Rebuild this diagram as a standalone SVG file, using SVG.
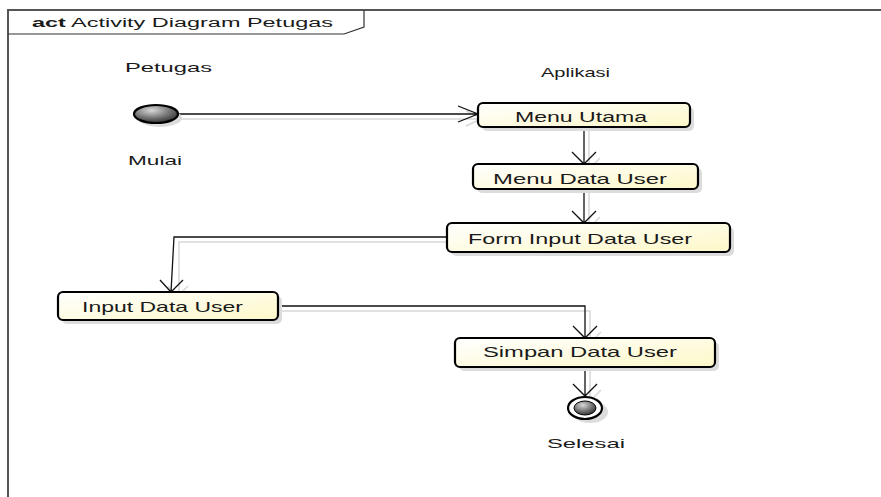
<svg xmlns="http://www.w3.org/2000/svg" width="881" height="497" viewBox="0 0 881 497">
<defs>
<style>
text{font-family:"Liberation Sans",Arial,sans-serif;fill:#1a1a1a}
.lbl{font-size:13px}
.nt{font-size:15px}
.node{fill:url(#ng);stroke:#000;stroke-width:2.2}
.shd{fill:#dcdcdc}
.ln{fill:none;stroke:#111;stroke-width:1.3}
.sl{fill:none;stroke:#d8d8d8;stroke-width:1.5}
</style>
<linearGradient id="ng" x1="0" y1="0" x2="1" y2="1">
<stop offset="0" stop-color="#ffffff"/>
<stop offset="1" stop-color="#fdf8c8"/>
</linearGradient>
<radialGradient id="bg" cx="0.4" cy="0.3" r="0.8">
<stop offset="0" stop-color="#d8d8d8"/>
<stop offset="0.6" stop-color="#666"/>
<stop offset="1" stop-color="#222"/>
</radialGradient>
</defs>
<rect width="881" height="497" fill="#fff"/>
<g id="frame">
<line x1="8" y1="10" x2="881" y2="10" stroke="#555" stroke-width="2"/>
<line x1="8" y1="9" x2="8" y2="497" stroke="#555" stroke-width="2"/>
<path d="M8 34 H344 L364 27 V10" fill="none" stroke="#333" stroke-width="1.2"/>
<text x="32" y="27" font-size="12.5" textLength="301" lengthAdjust="spacingAndGlyphs"><tspan font-weight="bold">act</tspan> Activity Diagram Petugas</text>
</g>
<g id="labels">
<text class="lbl" x="125" y="72" textLength="87" lengthAdjust="spacingAndGlyphs">Petugas</text>
<text class="lbl" x="541" y="77" textLength="69" lengthAdjust="spacingAndGlyphs">Aplikasi</text>
</g>
<g id="connectors">
<path class="sl" d="M180 119 H482 M466 111 L483 118 L466 126"/>
<path class="sl" d="M589 131 V168 M578 158 L589 169 L600 158"/>
<path class="sl" d="M589 193 V228 M578 217 L589 228 L600 217"/>
<path class="sl" d="M447 242 H179 V296 M168 286 L177 297 L188 286"/>
<path class="sl" d="M282 311 H590 V342 M579 332 L590 343 L601 332"/>
<path class="sl" d="M590 371 V400 M579 390 L590 401 L601 390"/>
<path class="ln" d="M178 114 H478 M458 106 L478 114 L458 122"/>
<path class="ln" d="M584 127 V164 M572 152 L584 164 L596 152"/>
<path class="ln" d="M584 189 V223 M572 211 L584 223 L596 211"/>
<path class="ln" d="M447 237 H174 L171 292 M160 280 L171 292 L183 280"/>
<path class="ln" d="M278 306 H585 V338 M573 326 L585 338 L597 326"/>
<path class="ln" d="M585 367 V396 M573 384 L585 396 L597 384"/>
</g>
<g id="start">
<ellipse cx="160" cy="118" rx="22" ry="9" class="shd"/>
<ellipse cx="156" cy="114" rx="22" ry="9" fill="url(#bg)" stroke="#000" stroke-width="2.2"/>
<text class="lbl" x="128" y="165" textLength="54" lengthAdjust="spacingAndGlyphs">Mulai</text>
</g>
<g id="menu-utama">
<rect x="482" y="107" width="212" height="24" rx="5" class="shd"/>
<rect x="478" y="103" width="212" height="24" rx="5" class="node"/>
<text class="nt" x="515" y="122" textLength="132" lengthAdjust="spacingAndGlyphs">Menu Utama</text>
</g>
<g id="menu-data-user">
<rect x="477" y="168" width="225" height="25" rx="5" class="shd"/>
<rect x="473" y="164" width="225" height="25" rx="5" class="node"/>
<text class="nt" x="493" y="184" textLength="174" lengthAdjust="spacingAndGlyphs">Menu Data User</text>
</g>
<g id="form-input-data-user">
<rect x="451" y="227" width="283" height="29" rx="5" class="shd"/>
<rect x="447" y="223" width="283" height="29" rx="5" class="node"/>
<text class="nt" x="468" y="244" textLength="224" lengthAdjust="spacingAndGlyphs">Form Input Data User</text>
</g>
<g id="input-data-user">
<rect x="62" y="296" width="220" height="28" rx="5" class="shd"/>
<rect x="58" y="292" width="220" height="28" rx="5" class="node"/>
<text class="nt" x="82" y="312" textLength="161" lengthAdjust="spacingAndGlyphs">Input Data User</text>
</g>
<g id="simpan-data-user">
<rect x="459" y="342" width="260" height="29" rx="5" class="shd"/>
<rect x="455" y="338" width="260" height="29" rx="5" class="node"/>
<text class="nt" x="483" y="357" textLength="194" lengthAdjust="spacingAndGlyphs">Simpan Data User</text>
</g>
<g id="end">
<ellipse cx="590" cy="412" rx="18" ry="11" class="shd"/>
<ellipse cx="585" cy="408" rx="17" ry="11" fill="#fff" stroke="#000" stroke-width="2.2"/>
<ellipse cx="585" cy="408" rx="11" ry="7" fill="url(#bg)" stroke="#000" stroke-width="1"/>
<text class="lbl" x="547" y="448" textLength="78" lengthAdjust="spacingAndGlyphs">Selesai</text>
</g>
</svg>
